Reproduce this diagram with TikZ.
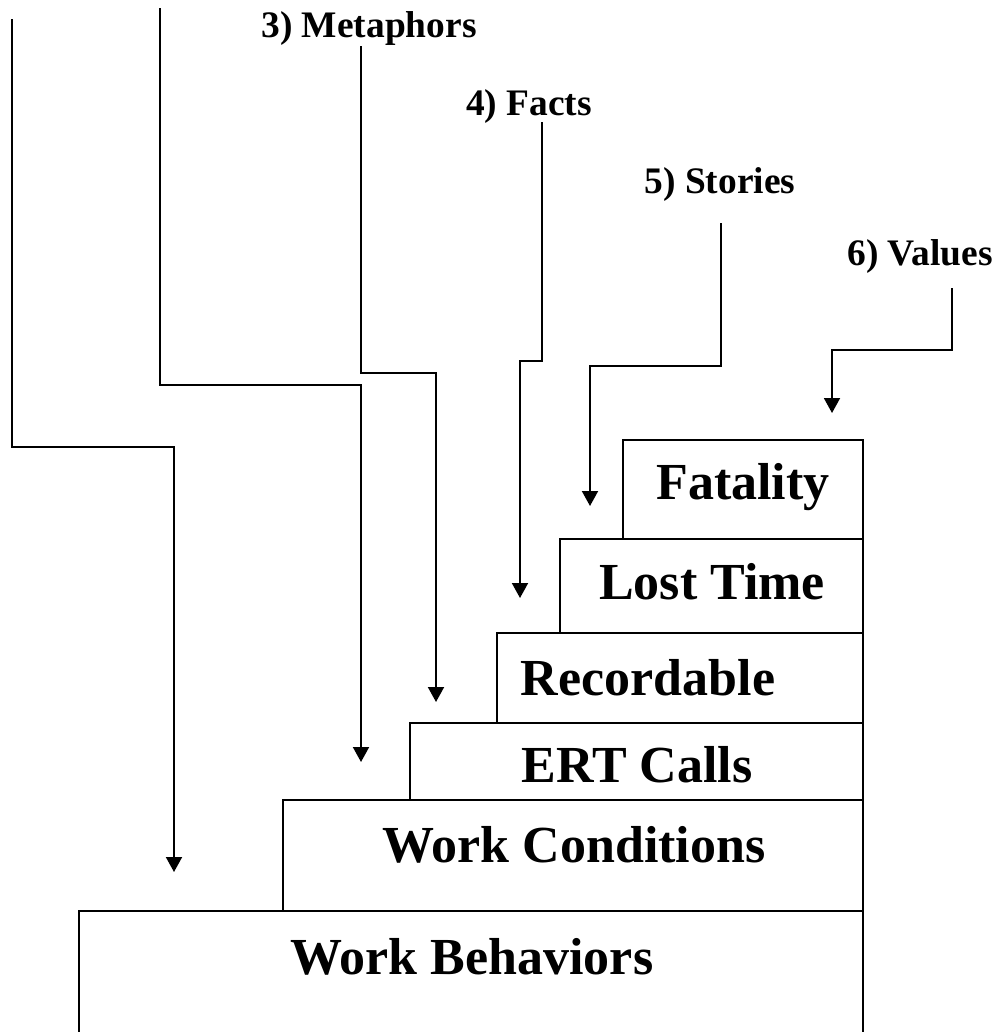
\documentclass[tikz,border=0pt]{standalone}
\usepackage{fontspec}
\setmainfont{Liberation Serif}
\usepackage{tikz}
\usetikzlibrary{arrows.meta}
\usetikzlibrary{positioning}

\begin{document}
\begin{tikzpicture}[x=0.02cm, y=-0.02cm, >={Triangle[width=0.32cm,length=0.3cm]}, line width=1.1pt,
		Step/.style={draw, rectangle, anchor=north west, inner sep=0pt},
		Big/.style={anchor=base, inner sep=0pt, font=\fontsize{29.6}{34}\selectfont\bfseries},
		Way/.style={anchor=base, inner sep=0pt, font=\fontsize{21.3}{25}\selectfont\bfseries}]
			\useasboundingbox (0,0) rectangle (1008,1032);
			\node[Step, minimum width=15.68cm, minimum height=2.44cm] (Behav) at (78,910) {};
			\node[Step, minimum width=11.6cm, minimum height=2.22cm] (Cond) at (282,799) {};
			\node[Step, minimum width=9.06cm, minimum height=1.54cm] (Ert) at (409,722) {};
			\node[Step, minimum width=7.32cm, minimum height=1.8cm] (Rec) at (496,632) {};
			\node[Step, minimum width=6.06cm, minimum height=1.88cm] (Lost) at (559,538) {};
			\node[Step, minimum width=4.8cm, minimum height=1.98cm] (Fatal) at (622,439) {};
			\node[Big] (BehavText) at (472,974) {Work Behaviors};
			\node[Big] (CondText) at (574,862) {Work Conditions};
			\node[Big] (ErtText) at (637,782) {ERT Calls};
			\node[Big] (RecText) at (648,695) {Recordable};
			\node[Big] (LostText) at (712,599) {Lost Time};
			\node[Big] (FatalText) at (743,499) {Fatality};
			\node[Way] (Metaph) at (369,37) {3) Metaphors};
			\node[Way] (Facts) at (529,115) {4) Facts};
			\node[Way] (Stories) at (720,193) {5) Stories};
			\node[Way] (Values) at (920,265) {6) Values};
			\coordinate (Src1) at (12,19);
			\coordinate (Bend1) at (174,447);
			\coordinate (Tip1) at (174,872);
			\coordinate (Src2) at (160,8);
			\coordinate (Bend2) at (361,385);
			\coordinate (Tip2) at (361,762);
			\coordinate (Src3) at (361,46);
			\coordinate (Bend3) at (436,373);
			\coordinate (Tip3) at (436,702);
			\coordinate (Src4) at (542,122);
			\coordinate (Bend4) at (520,361);
			\coordinate (Tip4) at (520,598);
			\coordinate (Src5) at (721,223);
			\coordinate (Bend5) at (590,366);
			\coordinate (Tip5) at (590,506);
			\coordinate (Src6) at (952,288);
			\coordinate (Bend6) at (832,350);
			\coordinate (Tip6) at (832,413);
			\foreach \i in {1,...,6}
				\draw[->] (Src\i) |- (Bend\i) -- (Tip\i);
		\end{tikzpicture}
\end{document}
